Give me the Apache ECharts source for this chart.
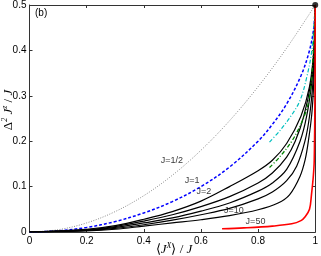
<!DOCTYPE html>
<html>
<head>
<meta charset="utf-8">
<script src="https://cdn.jsdelivr.net/npm/echarts@6/dist/echarts.min.js"></script>
<style>html,body{margin:0;padding:0;background:#fff}#c{width:321px;height:256px}</style>
</head>
<body>
<div id="c"></div>
<script>
// ---- data ----
const xHalf = [0,0.1,0.2,0.3,0.4,0.5,0.6,0.7,0.8,0.9,1];
const yHalf = [0,0.005,0.02,0.045,0.08,0.125,0.18,0.245,0.32,0.405,0.5];

const xJ1 = [0,0.1,0.2,0.3,0.4,0.5,0.6,0.7,0.8,0.85,0.9,0.95,0.98,0.995,1];
const yJ1 = [0,0.0025,0.010,0.023,0.042,0.067,0.1,0.143,0.2,0.237,0.282,0.344,0.4,0.45,0.5];

const xCyan = [0.84,0.88,0.92,0.947,0.97,0.988,1];
const yCyan = [0.198,0.226,0.26,0.29,0.34,0.4,0.5];

const xGreen = [0.84,0.875,0.918,0.955,0.978,0.99,1];
const yGreen = [0.142,0.165,0.2,0.245,0.29,0.36,0.5];

const xB1 = [0,0.2,0.3,0.4,0.5,0.6,0.7,0.8,0.85,0.9,0.95,0.98,0.995,1];
const yB1 = [0,0.006,0.014,0.028,0.045,0.068,0.1,0.135,0.158,0.195,0.255,0.32,0.4,0.5];

const xB2 = [0,0.2,0.3,0.4,0.5,0.6,0.7,0.8,0.85,0.9,0.93,0.96,0.985,0.997,1];
const yB2 = [0,0.005,0.012,0.024,0.038,0.056,0.078,0.108,0.13,0.165,0.2,0.255,0.33,0.41,0.5];

const xB3 = [0,0.2,0.3,0.4,0.5,0.6,0.7,0.8,0.85,0.9,0.947,0.97,0.988,0.998,1];
const yB3 = [0,0.004,0.010,0.02,0.031,0.046,0.064,0.09,0.108,0.138,0.2,0.255,0.33,0.41,0.5];

const xB4 = [0,0.2,0.3,0.4,0.5,0.6,0.7,0.8,0.85,0.9,0.935,0.964,0.98,0.992,0.998,1];
const yB4 = [0,0.0035,0.008,0.016,0.026,0.038,0.052,0.073,0.088,0.113,0.145,0.2,0.255,0.33,0.41,0.5];

const xJ10 = [0,0.2,0.3,0.4,0.5,0.6,0.7,0.8,0.87,0.91,0.947,0.965,0.976,0.988,0.995,0.999,1];
const yJ10 = [0,0.0025,0.006,0.013,0.02,0.027,0.036,0.049,0.064,0.082,0.123,0.16,0.2,0.26,0.33,0.41,0.5];

const xJ50 = [0.674,0.75,0.85,0.918,0.95,0.964,0.98,0.987,0.993,0.9965,0.999,1];
const yJ50 = [0.007,0.009,0.013,0.018,0.025,0.033,0.05,0.083,0.12,0.157,0.3,0.5];

const dotX = [1];
const dotY = [0.5];

const labelNames = ['J=1/2','J=1','J=2','J=10','J=50'];
const labelX = [0.498,0.569,0.61,0.715,0.791];
const labelY = [0.157,0.114,0.09,0.0465,0.0225];

const xTicks = [0,0.2,0.4,0.6,0.8,1];
const yTicks = [0,0.1,0.2,0.3,0.4,0.5];

// ---- chart ----
const zip = (xs, ys) => xs.map((x, i) => [x, ys[i]]);
const chart = echarts.init(document.getElementById('c'), null, {renderer: 'canvas'});
const tickFont = {color: '#000', fontSize: 10, fontFamily: 'Liberation Sans'};
const axLine = {show: true, onZero: false, lineStyle: {color: '#333', width: 1}};
const axTick = {show: true, inside: true, length: 3, lineStyle: {color: '#333', width: 1}};

function lineSeries(xs, ys, color, type, width, z) {
  return {
    type: 'line', data: zip(xs, ys), showSymbol: false, symbol: 'none',
    smooth: 0.35, silent: true, animation: false,
    lineStyle: {color: color, type: type, width: width}, z: z || 3
  };
}

const serif = 'Liberation Serif';
chart.setOption({
  animation: false,
  grid: {left: 29.5, right: 2.5, top: 3, bottom: 24},
  xAxis: [
    {type: 'value', min: xTicks[0], max: xTicks[xTicks.length-1], interval: 0.2, position: 'bottom',
     axisLine: axLine, axisTick: axTick, splitLine: {show: false},
     axisLabel: Object.assign({margin: 4}, tickFont)},
    {type: 'value', min: xTicks[0], max: xTicks[xTicks.length-1], interval: 0.2, position: 'top',
     axisLine: axLine, axisTick: axTick, splitLine: {show: false}, axisLabel: {show: false}}
  ],
  yAxis: [
    {type: 'value', min: yTicks[0], max: yTicks[yTicks.length-1], interval: 0.1, position: 'left',
     axisLine: axLine, axisTick: axTick, splitLine: {show: false},
     axisLabel: Object.assign({margin: 3}, tickFont)},
    {type: 'value', min: yTicks[0], max: yTicks[yTicks.length-1], interval: 0.1, position: 'right',
     axisLine: axLine, axisTick: axTick, splitLine: {show: false}, axisLabel: {show: false}}
  ],
  graphic: [
    {type: 'text', x: 35, y: 13, style: {text: '(b)', fontSize: 10, fontFamily: 'Liberation Sans', fill: '#000', verticalAlign: 'middle'}},
    {type: 'text', x: 8, y: 110, rotation: Math.PI/2,
     style: {text: '{d|Δ}{s|2}{i| J}{s|z}{d| / }{i|J}', align: 'center', verticalAlign: 'middle', fill: '#000',
       rich: {
         d: {fontSize: 13, fontFamily: serif, lineHeight: 15, verticalAlign: 'bottom'},
         i: {fontSize: 13, fontFamily: serif, fontStyle: 'italic', lineHeight: 15, verticalAlign: 'bottom'},
         s: {fontSize: 8, fontFamily: serif, fontStyle: 'italic', lineHeight: 9, verticalAlign: 'top'}
       }}},
    {type: 'text', x: 174, y: 249,
     style: {text: '{d|⟨}{i|J}{s|X}{d|⟩ / }{i|J}', align: 'center', verticalAlign: 'middle', fill: '#000',
       rich: {
         d: {fontSize: 13, fontFamily: serif, lineHeight: 15, verticalAlign: 'bottom'},
         i: {fontSize: 13, fontFamily: serif, fontStyle: 'italic', lineHeight: 15, verticalAlign: 'bottom'},
         s: {fontSize: 8, fontFamily: serif, fontStyle: 'italic', lineHeight: 9, verticalAlign: 'top'}
       }}}
  ],
  series: [
    lineSeries(xHalf, yHalf, '#8c8c8c', [1, 1.5], 1),
    lineSeries(xJ1, yJ1, '#0000ff', [3, 2], 1.5),
    lineSeries(xB1, yB1, '#000', 'solid', 1.2),
    lineSeries(xB2, yB2, '#000', 'solid', 1.2),
    lineSeries(xB3, yB3, '#000', 'solid', 1.2),
    lineSeries(xB4, yB4, '#000', 'solid', 1.2),
    lineSeries(xJ10, yJ10, '#000', 'solid', 1.2),
    lineSeries(xCyan, yCyan, '#00bfbf', [4, 2, 1, 2], 1.2, 4),
    lineSeries(xGreen, yGreen, '#008000', [4, 2, 1, 2], 1.3, 4),
    lineSeries(xJ50, yJ50, '#ff0000', 'solid', 1.6, 4),
    {type: 'scatter', data: zip(dotX, dotY), symbol: 'circle', symbolSize: 6,
     itemStyle: {color: '#000'}, silent: true, z: 5, clip: false},
    {type: 'scatter', symbolSize: 0, silent: true, z: 6,
     data: labelNames.map((n, i) => ({name: n, value: [labelX[i], labelY[i]]})),
     label: {show: true, position: 'inside', formatter: p => p.name, color: '#000',
             fontSize: 9, fontFamily: 'Liberation Sans'}}
  ]
});
</script>
</body>
</html>
